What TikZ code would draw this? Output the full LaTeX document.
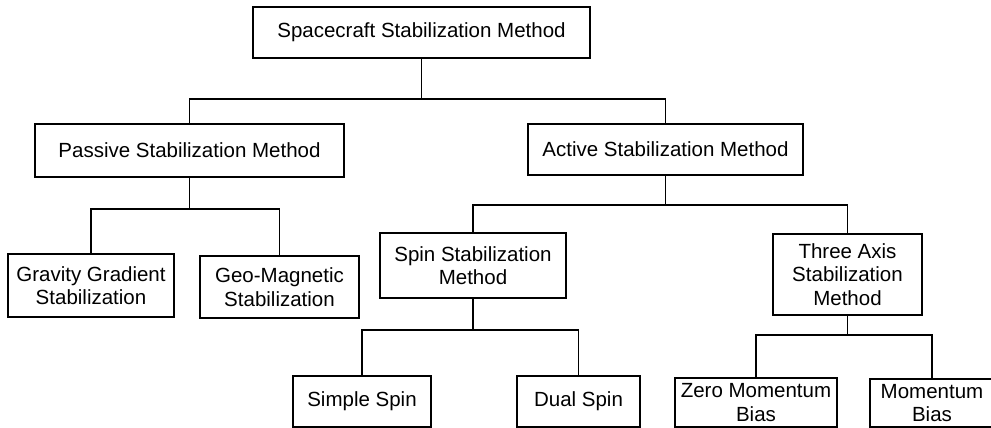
\documentclass[tikz,border=0pt]{standalone}
\usepackage{fontspec}
\setmainfont{Liberation Sans}
\usepackage{tikz}
\usetikzlibrary{positioning}

\begin{document}
\begin{tikzpicture}[
        x=1pt, y=-1pt,
        box/.style={rectangle, draw=black, line width=1.4pt, inner sep=0pt, align=center, font=\fontsize{20.5}{23.5}\selectfont},
        link/.style={line width=1.6pt}
    ]
        \clip (0,0) rectangle (991,428);
        \fill[white] (0,0) rectangle (991,428);

        % Top level
        \node[box, minimum width=337, minimum height=51] (craft) at (421.5, 32.5) {Spacecraft Stabilization Method};

        % Second level
        \node[box, minimum width=309, minimum height=53] (passive) at (189.5, 150.5) {Passive Stabilization Method};
        \node[box, minimum width=275, minimum height=51] (active) at (665.5, 149.5) {Active Stabilization Method};

        % Passive branch
        \node[box, minimum width=166, minimum height=63] (gravity) at (91, 285.5) {Gravity Gradient\\Stabilization};
        \node[box, minimum width=159, minimum height=62] (geomag) at (279.5, 287) {Geo-Magnetic\\Stabilization};

        % Active branch
        \node[box, minimum width=186, minimum height=65] (spin) at (473, 265.5) {Spin Stabilization\\Method};
        \node[box, minimum width=149, minimum height=81] (threeaxis) at (847.5, 274.5) {Three Axis\\Stabilization\\Method};

        % Bottom level
        \node[box, minimum width=138, minimum height=51] (simple) at (362, 401.5) {Simple Spin};
        \node[box, minimum width=123, minimum height=51] (dual) at (578.5, 401.5) {Dual Spin};
        \node[box, minimum width=162, minimum height=49] (zeromom) at (756, 402.5) {Zero Momentum\\Bias};
        \node[box, minimum width=124, minimum height=48] (mombias) at (932, 403) {Momentum\\Bias};

        % Bus points
        \coordinate (busA) at (craft.south |- 0,99);
        \coordinate (busB) at (passive.south |- 0,209);
        \coordinate (busC) at (active.south |- 0,205);
        \coordinate (busD) at (spin.south |- 0,330);
        \coordinate (busE) at (threeaxis.south |- 0,335);

        % Connectors
        \draw[link] (craft) -- (busA) -| (passive);
        \draw[link] (busA) -| (active);
        \draw[link] (passive) -- (busB) -| (gravity);
        \draw[link] (busB) -| (geomag);
        \draw[link] (active) -- (busC) -| (spin);
        \draw[link] (busC) -| (threeaxis);
        \draw[link] (spin) -- (busD) -| (simple);
        \draw[link] (busD) -| (dual);
        \draw[link] (threeaxis) -- (busE) -| (zeromom);
        \draw[link] (busE) -| (mombias);
    \end{tikzpicture}
\end{document}
